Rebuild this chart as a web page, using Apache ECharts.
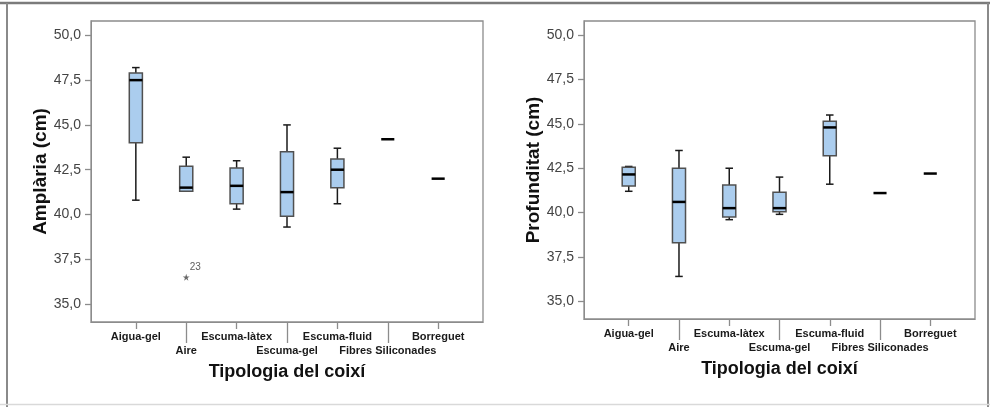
<!DOCTYPE html>
<html><head><meta charset="utf-8">
<script src="https://cdn.jsdelivr.net/npm/echarts@6/dist/echarts.min.js"></script>
<style>html,body{margin:0;padding:0;background:#fff}#c{width:990px;height:407px}</style>
</head><body><div id="c"></div>
<script>
// ---- data ----
const categories = ['Aigua-gel', 'Aire', 'Escuma-làtex', 'Escuma-gel', 'Escuma-fluid', 'Fibres Siliconades', 'Borreguet'];
const yTicks = [35, 37.5, 40, 42.5, 45, 47.5, 50];

// Amplària (cm)
const ampMin = [40.8, 41.3, 40.3, 39.3, 40.6, 44.2, 42.0];
const ampQ1  = [44.0, 41.3, 40.6, 39.9, 41.5, 44.2, 42.0];
const ampMed = [47.5, 41.5, 41.6, 41.25, 42.5, 44.2, 42.0];
const ampQ3  = [47.9, 42.7, 42.6, 43.5, 43.1, 44.2, 42.0];
const ampMax = [48.2, 43.2, 43.0, 45.0, 43.7, 44.2, 42.0];
const ampOutlierCat = [1];
const ampOutlierVal = [36.5];
const ampOutlierLabel = ['23'];

// Profunditat (cm)
const profMin = [41.2, 36.4, 39.6, 39.9, 41.6, 41.1, 42.2];
const profQ1  = [41.5, 38.3, 39.75, 40.05, 43.2, 41.1, 42.2];
const profMed = [42.15, 40.6, 40.25, 40.25, 44.8, 41.1, 42.2];
const profQ3  = [42.55, 42.5, 41.55, 41.15, 45.15, 41.1, 42.2];
const profMax = [42.6, 43.5, 42.5, 42.0, 45.5, 41.1, 42.2];

// ---- build ----
function boxRows(mn, q1, md, q3, mx) {
  return categories.map((c, i) => [i, mn[i], q1[i], md[i], q3[i], mx[i]]);
}
const FONT = "'Liberation Sans', Arial, sans-serif";
const FRAME = '#8c8c8c';
const evenIdx = categories.map((c, i) => i).filter(i => i % 2 === 0);
const oddIdx = categories.map((c, i) => i).filter(i => i % 2 === 1);

function renderBox(params, api) {
  const x = api.value(0);
  const mn = api.value(1), q1 = api.value(2), md = api.value(3), q3 = api.value(4), mx = api.value(5);
  const band = api.size([1, 0])[0];
  const hw = band * 0.13, cw = band * 0.075;
  const P = v => api.coord([x, v]);
  const pMed = P(md), pQ1 = P(q1), pQ3 = P(q3), pMin = P(mn), pMax = P(mx);
  const cx = pMed[0];
  const ws = { stroke: '#1a1a1a', lineWidth: 1.5 };
  const ch = [];
  if (mx > q3) {
    ch.push({ type: 'line', shape: { x1: cx, y1: pMax[1], x2: cx, y2: pQ3[1] }, style: ws });
    ch.push({ type: 'line', shape: { x1: cx - cw, y1: pMax[1], x2: cx + cw, y2: pMax[1] }, style: ws });
  }
  if (mn < q1) {
    ch.push({ type: 'line', shape: { x1: cx, y1: pMin[1], x2: cx, y2: pQ1[1] }, style: ws });
    ch.push({ type: 'line', shape: { x1: cx - cw, y1: pMin[1], x2: cx + cw, y2: pMin[1] }, style: ws });
  }
  if (q3 > q1) {
    ch.push({ type: 'rect', shape: { x: cx - hw, y: pQ3[1], width: 2 * hw, height: pQ1[1] - pQ3[1] },
      style: { fill: '#abcdee', stroke: '#505050', lineWidth: 1.5 } });
  }
  ch.push({ type: 'line', shape: { x1: cx - hw, y1: pMed[1], x2: cx + hw, y2: pMed[1] },
    style: { stroke: '#000', lineWidth: 2.5 } });
  return { type: 'group', children: ch };
}

function xAxes(gridIndex, withName) {
  const base = {
    type: 'value', gridIndex: gridIndex, min: -0.89, max: 6.89, position: 'bottom',
    splitLine: { show: false },
    axisLine: { show: true, onZero: false, lineStyle: { color: FRAME, width: 1 } }
  };
  return [
    Object.assign({}, base, {
      name: withName ? 'Tipologia del coixí' : '', nameLocation: 'middle', nameGap: 41,
      nameTextStyle: { fontFamily: FONT, fontSize: 18, fontWeight: 'bold', color: '#111' },
      axisTick: { show: true, customValues: evenIdx, length: 7, lineStyle: { color: FRAME, width: 1.3 } },
      axisLabel: { customValues: evenIdx, formatter: v => categories[Math.round(v)] || '', margin: 9,
        fontFamily: FONT, fontSize: 11, fontWeight: 'bold', color: '#1a1a1a' }
    }),
    Object.assign({}, base, {
      axisLine: { show: false, onZero: false },
      axisTick: { show: true, customValues: oddIdx, length: 21, lineStyle: { color: FRAME, width: 1.3 } },
      axisLabel: { customValues: oddIdx, formatter: v => categories[Math.round(v)] || '', margin: 23,
        fontFamily: FONT, fontSize: 11, fontWeight: 'bold', color: '#1a1a1a' }
    })
  ];
}

function yAxis(gridIndex, name) {
  return {
    type: 'value', gridIndex: gridIndex, min: 34, max: 50.8,
    name: name, nameLocation: 'middle', nameGap: 38,
    nameTextStyle: { fontFamily: FONT, fontSize: 19, fontWeight: 'bold', color: '#111' },
    splitLine: { show: false },
    axisLine: { show: true, onZero: false, lineStyle: { color: FRAME, width: 1 } },
    axisTick: { show: true, customValues: yTicks, length: 6, lineStyle: { color: FRAME, width: 1.3 } },
    axisLabel: { customValues: yTicks, formatter: v => v.toFixed(1).replace('.', ','), margin: 10,
      fontFamily: FONT, fontSize: 14, color: '#444' }
  };
}

const chart = echarts.init(document.getElementById('c'), null, { renderer: 'canvas' });
chart.setOption({
  animation: false,
  backgroundColor: '#fff',
  grid: [
    { left: 91, top: 21, width: 392, height: 301, show: true, borderColor: FRAME, borderWidth: 1.3, containLabel: false, outerBoundsMode: 'none' },
    { left: 584, top: 21, width: 391, height: 298, show: true, borderColor: FRAME, borderWidth: 1.3, containLabel: false, outerBoundsMode: 'none' }
  ],
  xAxis: [].concat(xAxes(0, true), xAxes(1, true)),
  yAxis: [yAxis(0, 'Amplària (cm)'), yAxis(1, 'Profunditat (cm)')],
  graphic: [
    { type: 'line', shape: { x1: 0, y1: 3, x2: 990, y2: 3 }, style: { stroke: '#7b7b7b', lineWidth: 2.5 }, z: 100 },
    { type: 'line', shape: { x1: 7, y1: 3, x2: 7, y2: 407 }, style: { stroke: '#8a8a8a', lineWidth: 2 }, z: 100 },
    { type: 'line', shape: { x1: 988, y1: 3, x2: 988, y2: 407 }, style: { stroke: '#8a8a8a', lineWidth: 2 }, z: 100 },
    { type: 'line', shape: { x1: 0, y1: 404.5, x2: 990, y2: 404.5 }, style: { stroke: '#d9d9d9', lineWidth: 1.5 }, z: 100 }
  ],
  series: [
    { type: 'custom', xAxisIndex: 0, yAxisIndex: 0, renderItem: renderBox,
      encode: { x: 0, y: [1, 2, 3, 4, 5] }, data: boxRows(ampMin, ampQ1, ampMed, ampQ3, ampMax) },
    { type: 'custom', xAxisIndex: 2, yAxisIndex: 1, renderItem: renderBox,
      encode: { x: 0, y: [1, 2, 3, 4, 5] }, data: boxRows(profMin, profQ1, profMed, profQ3, profMax) },
    { type: 'scatter', xAxisIndex: 0, yAxisIndex: 0,
      symbol: 'path://M50,0 L61,35 L98,35 L68,57 L79,91 L50,70 L21,91 L32,57 L2,35 L39,35 Z',
      symbolSize: 7, itemStyle: { color: '#444' },
      label: { show: true, position: [7, -11], align: 'left', verticalAlign: 'top',
        formatter: p => ampOutlierLabel[p.dataIndex], fontFamily: FONT, fontSize: 10, color: '#333' },
      data: ampOutlierCat.map((c, i) => [c, ampOutlierVal[i]]) }
  ]
});
</script>
</body></html>
